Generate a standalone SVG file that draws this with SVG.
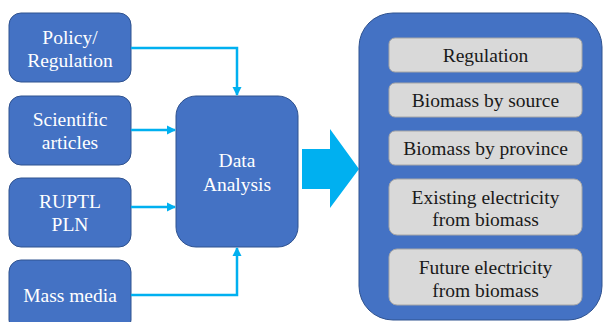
<svg xmlns="http://www.w3.org/2000/svg" width="603" height="322" viewBox="0 0 603 322">
<defs>
<style>
.src{fill:#4472C4;stroke:#2F528F;stroke-width:1}
.wt{font-family:"Liberation Serif","Times New Roman",serif;font-size:19.5px;fill:#FFFFFF;text-anchor:middle}
.bt{font-family:"Liberation Serif","Times New Roman",serif;font-size:19.5px;fill:#1A1A1A;text-anchor:middle}
.item{fill:#D9D9D9;stroke:#A6A6A6;stroke-width:1}
.conn{fill:none;stroke:#00B0F0;stroke-width:2.5}
</style>
<marker id="ah" markerWidth="10" markerHeight="10" refX="8" refY="5" orient="auto" markerUnits="userSpaceOnUse">
<path d="M0,0.5 L9,5 L0,9.5 Z" fill="#00B0F0"/>
</marker>
</defs>
<rect width="603" height="322" fill="#FFFFFF"/>
<g id="policy">
<rect class="src" x="9" y="13" width="122" height="69" rx="12"/>
<text class="wt" x="70" y="43.5">Policy/</text>
<text class="wt" x="70" y="67">Regulation</text>
</g>
<g id="scientific">
<rect class="src" x="9" y="96" width="122" height="69" rx="12"/>
<text class="wt" x="70" y="126">Scientific</text>
<text class="wt" x="70" y="149">articles</text>
</g>
<g id="ruptl">
<rect class="src" x="9" y="178" width="122" height="69" rx="12"/>
<text class="wt" x="70" y="208">RUPTL</text>
<text class="wt" x="70" y="231">PLN</text>
</g>
<g id="massmedia">
<rect class="src" x="9" y="260" width="122" height="72" rx="12"/>
<text class="wt" x="70" y="302">Mass media</text>
</g>
<g id="analysis">
<rect class="src" x="176" y="96" width="122" height="151" rx="20"/>
<text class="wt" x="237" y="167">Data</text>
<text class="wt" x="237" y="191">Analysis</text>
</g>
<g id="connectors">
<path class="conn" d="M131,48 H237 V95" marker-end="url(#ah)"/>
<path class="conn" d="M131,130 H175" marker-end="url(#ah)"/>
<path class="conn" d="M131,207 H175" marker-end="url(#ah)"/>
<path class="conn" d="M131,295 H237 V248" marker-end="url(#ah)"/>
<path d="M302,149 H330 V129 L359,169 L330,208 V189 H302 Z" fill="#00B0F0"/>
</g>
<g id="results">
<rect class="src" x="359" y="13" width="243" height="307" rx="34"/>
<g id="r-regulation">
<rect class="item" x="389" y="38" width="193" height="34" rx="6"/>
<text class="bt" x="485.5" y="62">Regulation</text>
</g>
<g id="r-source">
<rect class="item" x="389" y="83" width="193" height="34" rx="6"/>
<text class="bt" x="485.5" y="107">Biomass by source</text>
</g>
<g id="r-province">
<rect class="item" x="389" y="131" width="193" height="34" rx="6"/>
<text class="bt" x="485.5" y="155">Biomass by province</text>
</g>
<g id="r-existing">
<rect class="item" x="389" y="179" width="193" height="56" rx="8"/>
<text class="bt" x="485.5" y="204">Existing electricity</text>
<text class="bt" x="485.5" y="226">from biomass</text>
</g>
<g id="r-future">
<rect class="item" x="389" y="249" width="193" height="56" rx="8"/>
<text class="bt" x="485.5" y="274">Future electricity</text>
<text class="bt" x="485.5" y="297">from biomass</text>
</g>
</g>
</svg>
